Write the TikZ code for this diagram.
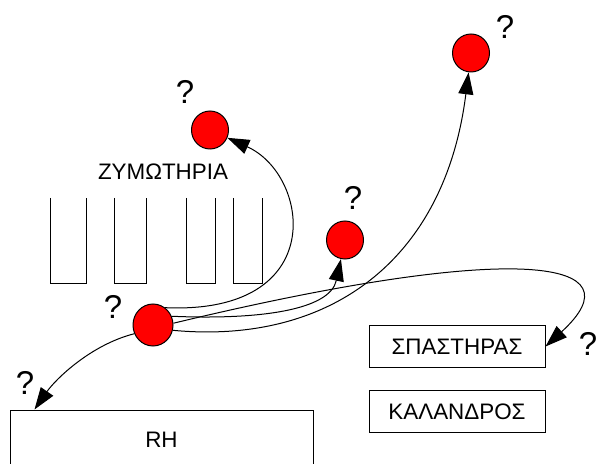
\documentclass[tikz,border=0pt]{standalone}
\usepackage{fontspec}
\setmainfont{Liberation Sans}
\usetikzlibrary{arrows.meta}
\usetikzlibrary{shapes.geometric}
\usetikzlibrary{positioning}

\begin{document}
\begin{tikzpicture}[x=0.5pt, y=-0.5pt,
  ball/.style = {ellipse, draw, fill=red, line width=0.5pt,
                 minimum width=18.5pt, minimum height=19pt, inner sep=0pt},
  machine/.style = {draw, line width=0.5pt, inner sep=0pt,
                    font=\fontsize{11.2pt}{13pt}\selectfont,
                    minimum width=88pt, minimum height=21pt},
  qmark/.style = {font=\fontsize{16.5pt}{18pt}\selectfont, inner sep=0pt},
  flow/.style = {-{Triangle[length=11pt, width=7.5pt]}, line width=0.5pt}]
  \useasboundingbox (0,0) rectangle (598,464);
  \clip (0,0) rectangle (598,464);
  % tanks
  \foreach \a/\b in {50/86, 114/146, 186/215, 233/262}
    \draw[line width=0.5pt] (\a,198) |- (\b,283) -- (\b,198);
  \node[font=\fontsize{11.2pt}{13pt}\selectfont, inner sep=0pt] (zym) at (163,172) {ΖΥΜΩΤΗΡΙΑ};
  % balls
  \node[ball] (ferm) at (210,130) {};
  \node[ball] (top) at (471,53) {};
  \node[ball] (mid) at (345,240) {};
  \node[ball, minimum width=20pt, minimum height=21pt] (src) at (153,325) {};
  % machines
  \node[machine, minimum width=151.5pt, minimum height=30pt] (rh) at (161.5,440) {RH};
  \node[machine] (spast) at (457,346.5) {ΣΠΑΣΤΗΡΑΣ};
  \node[machine, below=11pt of spast] (kal) {ΚΑΛΑΝΔΡΟΣ};
  % question marks
  \node[qmark] (qferm) at (185,92) {?};
  \node[qmark] (qtop) at (505,27) {?};
  \node[qmark] (qmid) at (353,198) {?};
  \node[qmark] (qsrc) at (113,307) {?};
  \node[qmark] (qrh) at (25,383) {?};
  \node[qmark] (qspast) at (588,344) {?};
  % flows
  \draw[flow] (src.55) .. controls (330,315) and (310,175) .. (ferm);
  \draw[flow] (src.25) .. controls (260,320) and (330,310) .. (mid);
  \draw[flow] (src.-15) .. controls (330,345) and (445,260) .. (top);
  \draw[flow] (src.5) .. controls (520,240) and (640,260) .. (spast.east);
  \draw[flow] (src.205) .. controls (90,345) and (55,380) .. ([xshift=12.5pt]rh.north west);
\end{tikzpicture}
\end{document}
